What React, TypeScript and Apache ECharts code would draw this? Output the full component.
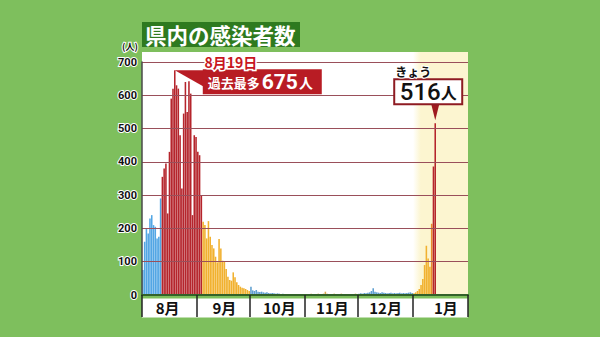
import React, { useEffect, useRef } from 'react';
import * as echarts from 'echarts';

const FONT = "'Noto Sans CJK JP', 'Noto Sans', sans-serif";
const NUM_FONT = "Roboto, 'Noto Sans', sans-serif";

// Category axis: every day from 2021-08-01 to 2022-01-31
const AXIS_DAYS = 184;
const dayLabels: string[] = [];
const monthOf: number[] = [];
const dayOf: number[] = [];
for (let i = 0; i < AXIS_DAYS; i++) {
  const dt = new Date(2021, 7, 1 + i);
  monthOf.push(dt.getMonth() + 1);
  dayOf.push(dt.getDate());
  dayLabels.push(`${dt.getMonth() + 1}月${dt.getDate()}日`);
}
// day of month under which each month label sits
const monthLabelDay: Record<number, number> = { 8: 15, 9: 16, 10: 17, 11: 16, 12: 16, 1: 19 };

// Y axis ticks
const yMin = 0;
const yMax = 700;
const yStep = 100;

// Daily new cases
const augEarly = [75, 160, 200, 185, 230, 240, 210, 205, 170, 175, 290];
const fifthWave = [355, 380, 395, 245, 430, 590, 620, 675, 630, 620, 480, 320, 545, 640, 550, 642, 605, 240, 480, 475, 430, 420, 300];
const sepDecline = [220, 210, 170, 222, 175, 150, 140, 115, 98, 168, 140, 103, 100, 78, 55, 45, 43, 68, 53, 38, 30, 25, 22, 20, 18, 15, 12];
const octCases = [25, 14, 12, 15, 10, 9, 10, 8, 7, 8, 6, 5, 6, 5, 4, 5, 4, 3, 4, 3, 3, 2, 3, 2, 2, 3, 2, 2, 1, 2, 2];
const novCases = [3, 2, 3, 4, 3, 2, 3, 4, 3, 2, 4, 10, 4, 3, 2, 3, 4, 3, 2, 3, 4, 3, 2, 3, 2, 3, 2, 3, 4, 3];
const decCases = [4, 5, 4, 6, 5, 7, 8, 12, 20, 10, 8, 7, 6, 8, 7, 6, 5, 6, 7, 5, 6, 5, 6, 7, 5, 6, 5, 6, 7, 8, 6];
const janEarly = [5, 8, 12, 18, 30, 48, 90, 148, 110, 85];
const janJump = [214];
const janLatest = [386, 516];

const BLUE = '#52a6e4';
const RED = '#b5252c';
const YELLOW = '#f1b12f';
const SMALL_BLUE = '#5e9fd0';
const TAN = '#d9a84e';
const ORANGE = '#e98a2c';
const BG_GREEN = '#7ebf5d';

const segments = [
  { values: augEarly, color: BLUE },
  { values: fifthWave, color: RED },
  { values: sepDecline, color: YELLOW },
  { values: octCases, color: SMALL_BLUE },
  { values: novCases, color: TAN },
  { values: decCases, color: SMALL_BLUE },
  { values: janEarly, color: YELLOW },
  { values: janJump, color: ORANGE },
  { values: janLatest, color: RED },
];

const allValues: number[] = [];
const seriesData: any[] = [];
segments.forEach((s) =>
  s.values.forEach((v) => {
    allValues.push(v);
    seriesData.push({ value: v, itemStyle: { color: s.color } });
  })
);
const peakIndex = allValues.indexOf(Math.max(...allValues));
const todayIndex = allValues.length - 1;

export default function App() {
  const ref = useRef<HTMLDivElement>(null);
  useEffect(() => {
    const el = ref.current!;
    const chart = echarts.init(el, null, { renderer: 'svg' });
    chart.setOption({
      animation: false,
      backgroundColor: BG_GREEN,
      textStyle: { fontFamily: FONT },
      grid: { left: 142, top: 62, width: 326, height: 233, containLabel: false },
      xAxis: {
        type: 'category',
        data: dayLabels,
        boundaryGap: true,
        z: 3,
        axisLine: { show: true, lineStyle: { color: '#33622a', width: 2 } },
        axisTick: {
          show: true,
          length: 22,
          interval: (i: number) => dayOf[i] === 1,
          lineStyle: { color: '#222', width: 1.5 },
        },
        axisLabel: {
          interval: (i: number) => dayOf[i] === monthLabelDay[monthOf[i]],
          formatter: (_v: string, i: number) => `${monthOf[i]}月`,
          margin: 5,
          fontSize: 15,
          fontWeight: 'bold',
          color: '#111',
          fontFamily: FONT,
          hideOverlap: false,
        },
        splitLine: { show: false },
      },
      yAxis: {
        type: 'value',
        min: yMin,
        max: yMax,
        interval: yStep,
        z: 3,
        axisLine: { show: true, lineStyle: { color: '#4a4a4a', width: 1.5 } },
        axisTick: { show: false },
        axisLabel: {
          color: '#111',
          fontSize: 11,
          fontWeight: 'bold',
          fontFamily: NUM_FONT,
          margin: 5,
          textBorderColor: '#ffffff',
          textBorderWidth: 2,
        },
        splitLine: { show: true, lineStyle: { color: '#9a4f5a', width: 1.2 } },
      },
      series: [
        {
          type: 'bar',
          data: seriesData,
          barCategoryGap: '12%',
          z: 2,
        },
      ],
    });

    const px = (i: number, v: number) =>
      chart.convertToPixel({ gridIndex: 0 }, [i, v]) as unknown as number[];
    const [c0, yBase] = px(0, 0);
    const [c1] = px(1, 0);
    const band = c1 - c0;
    const plotLeft = c0 - band / 2;
    const plotRight = plotLeft + band * AXIS_DAYS;
    const [, yTop] = px(0, yMax);
    const bgTop = yTop - 10;
    const janIdx = dayLabels.indexOf('1月1日');
    const janLeft = px(janIdx, 0)[0] - band / 2;

    const [pkX, pkY] = px(peakIndex, allValues[peakIndex]);
    const [tdX, tdY] = px(todayIndex, allValues[todayIndex]);

    const pkBoxX = pkX + 28;
    const pkBoxY = pkY - 1;
    const tdBoxX = tdX - 41;
    const tdBoxY = tdY - 44;

    chart.setOption({
      graphic: [
        // plot background
        {
          type: 'rect',
          z: -2,
          shape: { x: plotLeft, y: bgTop, width: plotRight - plotLeft, height: yBase - bgTop },
          style: { fill: '#ffffff' },
        },
        // January highlight
        {
          type: 'rect',
          z: -1,
          shape: { x: janLeft, y: bgTop, width: plotRight - janLeft, height: yBase - bgTop },
          style: {
            fill: {
              type: 'linear',
              x: 0, y: 0, x2: 1, y2: 0,
              colorStops: [
                { offset: 0, color: 'rgba(252,245,205,0)' },
                { offset: 0.14, color: '#fcf5d0' },
                { offset: 1, color: '#fcf5d0' },
              ],
            },
          },
        },
        // month band
        {
          type: 'rect',
          z: -1,
          shape: { x: plotLeft, y: yBase + 3.5, width: plotRight - plotLeft, height: 19 },
          style: { fill: '#ffffff' },
        },
        // title
        {
          type: 'rect',
          z: 5,
          shape: { x: plotLeft, y: 22, width: 158, height: 25 },
          style: { fill: '#2e7a1f' },
        },
        {
          type: 'text',
          z: 6,
          x: plotLeft + 3,
          y: 34.5,
          style: {
            text: '県内の感染者数',
            fill: '#ffffff',
            fontSize: 21.5,
            fontWeight: 'bold',
            fontFamily: FONT,
            align: 'left',
            verticalAlign: 'middle',
          },
        },
        // unit
        {
          type: 'text',
          z: 6,
          x: plotLeft - 12,
          y: 46.5,
          style: {
            text: '(人)',
            fill: '#111',
            fontSize: 9,
            fontWeight: 'bold',
            fontFamily: FONT,
            align: 'center',
            verticalAlign: 'middle',
            stroke: '#ffffff',
            lineWidth: 2,
          },
        },
        // peak callout
        {
          type: 'polygon',
          z: 7,
          shape: { points: [[pkX, pkY], [pkBoxX + 2, pkBoxY + 1], [pkBoxX + 2, pkBoxY + 18]] },
          style: { fill: '#b81c24' },
        },
        {
          type: 'rect',
          z: 7,
          shape: { x: pkBoxX, y: pkBoxY, width: 119, height: 25 },
          style: { fill: '#b81c24' },
        },
        {
          type: 'text',
          z: 8,
          x: pkBoxX + 5,
          y: pkBoxY + 13,
          style: {
            text: '{a|過去最多}{b|675}{c|人}',
            align: 'left',
            verticalAlign: 'middle',
            rich: {
              a: { fontSize: 13, fontWeight: 'bold', fill: '#ffffff', color: '#ffffff', fontFamily: FONT },
              b: { fontSize: 21, fontWeight: 'bold', fill: '#ffffff', color: '#ffffff', fontFamily: NUM_FONT, padding: [0, 1, 0, 2] },
              c: { fontSize: 14, fontWeight: 'bold', fill: '#ffffff', color: '#ffffff', fontFamily: FONT },
            },
          },
        },
        {
          type: 'text',
          z: 8,
          x: pkBoxX + 28,
          y: pkBoxY - 7,
          style: {
            text: dayLabels[peakIndex],
            fill: '#c8161e',
            fontSize: 14,
            fontWeight: 'bold',
            fontFamily: FONT,
            align: 'center',
            verticalAlign: 'middle',
            stroke: '#ffffff',
            lineWidth: 3,
          },
        },
        // today callout
        {
          type: 'polygon',
          z: 7,
          shape: { points: [[tdX - 4, tdBoxY + 25], [tdX + 4, tdBoxY + 25], [tdX, tdY - 3]] },
          style: { fill: '#9e1a1e' },
        },
        {
          type: 'rect',
          z: 7,
          shape: { x: tdBoxX, y: tdBoxY, width: 68, height: 25 },
          style: { fill: '#ffffff', stroke: '#8e1b22', lineWidth: 2 },
        },
        {
          type: 'text',
          z: 8,
          x: tdBoxX + 34,
          y: tdBoxY + 13,
          style: {
            text: `{n|${allValues[todayIndex]}}{u|人}`,
            align: 'center',
            verticalAlign: 'middle',
            rich: {
              n: { fontSize: 24, fill: '#111', color: '#111', fontFamily: NUM_FONT, fontWeight: 500 },
              u: { fontSize: 16, fill: '#111', color: '#111', fontFamily: FONT, fontWeight: 'bold' },
            },
          },
        },
        {
          type: 'text',
          z: 8,
          x: tdBoxX + 1,
          y: tdBoxY - 8,
          style: {
            text: 'きょう',
            fill: '#111',
            fontSize: 12,
            fontWeight: 'bold',
            fontFamily: FONT,
            align: 'left',
            verticalAlign: 'middle',
            stroke: '#ffffff',
            lineWidth: 2,
          },
        },
      ],
    });
    return () => chart.dispose();
  }, []);
  return (
    <div
      ref={ref}
      style={{ position: 'absolute', left: 0, top: 0, width: 600, height: 337 }}
    />
  );
}
